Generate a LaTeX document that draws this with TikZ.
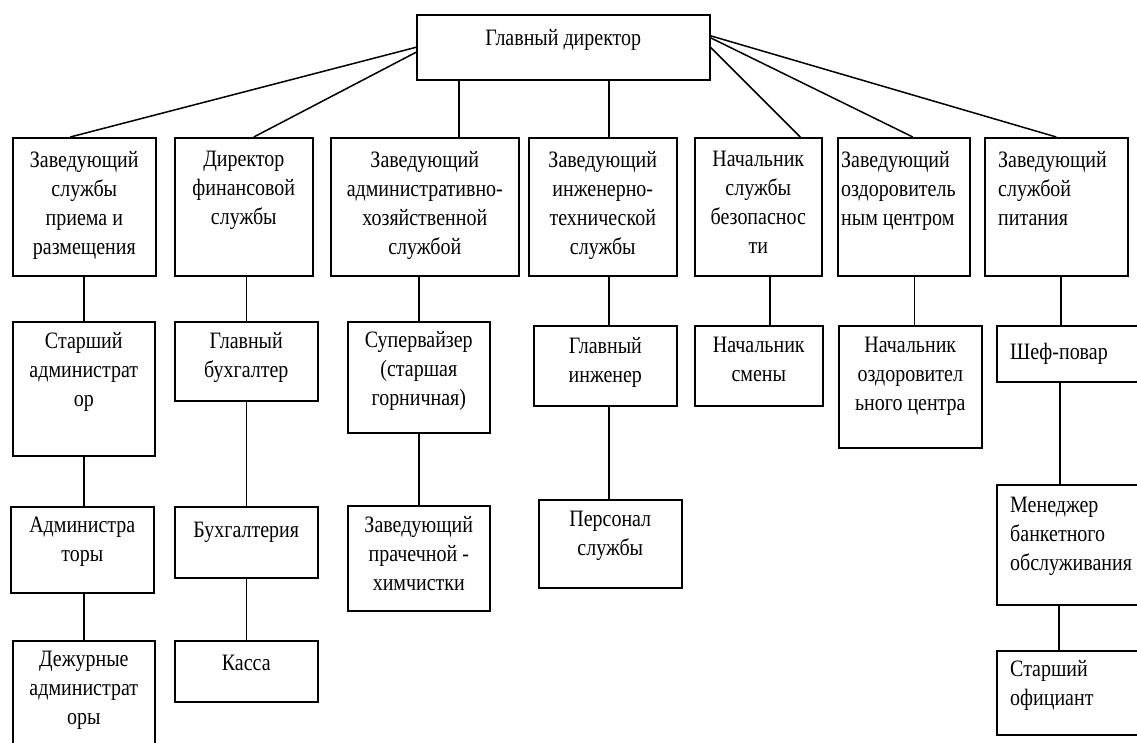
\documentclass[tikz,border=0pt]{standalone}
\usepackage{fontspec}
\setmainfont{Liberation Serif}[FakeStretch=0.85]
\tikzset{
  unit/.style={draw=black, line width=1.6pt, anchor=north west, inner sep=0pt},
  post/.style={font=\fontsize{23.5}{29}\selectfont, inner sep=0pt, align=center, anchor=north,
    execute at begin node=\strut},
  postl/.style={post, align=left, anchor=north west},
  link/.style={line width=1.5pt}
}
\begin{document}
\begin{tikzpicture}[x=1pt,y=-1pt]
 \useasboundingbox (0,0) rectangle (1137,742);
 % top
 \node[unit, minimum width=293pt, minimum height=65pt] (dir) at (416,14) {};
 \node[post] (dirT) at ([yshift=-11pt]dir.north) {Главный директор};
 % first row
 \node[unit, minimum width=143pt, minimum height=138pt] (recep) at (12,137) {};
 \node[unit, minimum width=138pt, minimum height=138pt] (fin) at (174,137) {};
 \node[unit, minimum width=188pt, minimum height=138pt] (adm) at (330,137) {};
 \node[unit, minimum width=148pt, minimum height=138pt] (eng) at (528,137) {};
 \node[unit, minimum width=127pt, minimum height=138pt] (sec) at (694,137) {};
 \node[unit, minimum width=132pt, minimum height=138pt] (health) at (837,137) {};
 \node[unit, minimum width=143pt, minimum height=138pt] (food) at (984,137) {};
 \node[post] (recepT) at ([yshift=-14pt]recep.north) {Заведующий\\службы\\приема и\\размещения};
 \node[post] (finT) at ([yshift=-14pt]fin.north) {Директор\\финансовой\\службы};
 \node[post] (admT) at ([yshift=-14pt]adm.north) {Заведующий\\административно-\\хозяйственной\\службой};
 \node[post] (engT) at ([yshift=-14pt]eng.north) {Заведующий\\инженерно-\\технической\\службы};
 \node[post] (secT) at ([yshift=-14pt]sec.north) {Начальник\\службы\\безопаснос\\ти};
 \node[postl] (healthT) at ([xshift=4pt,yshift=-14pt]health.north west) {Заведующий\\оздоровитель\\ным центром};
 \node[postl] (foodT) at ([xshift=14pt,yshift=-14pt]food.north west) {Заведующий\\службой\\питания};
 % second row
 \node[unit, minimum width=142pt, minimum height=134pt] (srAdm) at (12,321) {};
 \node[unit, minimum width=143pt, minimum height=79pt] (chAcc) at (174,321) {};
 \node[unit, minimum width=142pt, minimum height=111pt] (superv) at (347,321) {};
 \node[unit, minimum width=143pt, minimum height=80pt] (chEng) at (533,325) {};
 \node[unit, minimum width=128pt, minimum height=80pt] (shiftHd) at (694,325) {};
 \node[unit, minimum width=143pt, minimum height=122pt] (healthHd) at (838,325) {};
 \node[unit, minimum width=160pt, minimum height=56pt] (chef) at (996,325) {};
 \node[post] (srAdmT) at ([yshift=-11pt]srAdm.north) {Старший\\администрат\\ор};
 \node[post] (chAccT) at ([yshift=-11pt]chAcc.north) {Главный\\бухгалтер};
 \node[post] (supervT) at ([yshift=-10pt]superv.north) {Супервайзер\\(старшая\\горничная)};
 \node[post] (chEngT) at ([yshift=-12pt]chEng.north) {Главный\\инженер};
 \node[post] (shiftHdT) at ([yshift=-12pt]shiftHd.north) {Начальник\\смены};
 \node[post] (healthHdT) at ([yshift=-12pt]healthHd.north) {Начальник\\оздоровител\\ьного центра};
 \node[postl] (chefT) at ([xshift=14pt,yshift=-14pt]chef.north west) {Шеф-повар};
 % third row
 \node[unit, minimum width=143pt, minimum height=86pt] (admins) at (10,506) {};
 \node[unit, minimum width=143pt, minimum height=71pt] (acc) at (174,506) {};
 \node[unit, minimum width=142pt, minimum height=105pt] (laundry) at (347,505) {};
 \node[unit, minimum width=143pt, minimum height=88pt] (staff) at (538,499) {};
 \node[unit, minimum width=160pt, minimum height=120pt] (banquet) at (996,484) {};
 \node[post] (adminsT) at ([yshift=-11pt]admins.north) {Администра\\торы};
 \node[post] (accT) at ([yshift=-11pt]acc.north) {Бухгалтерия};
 \node[post] (laundryT) at ([yshift=-11pt]laundry.north) {Заведующий\\прачечной -\\химчистки};
 \node[post] (staffT) at ([yshift=-12pt]staff.north) {Персонал\\службы};
 \node[postl] (banquetT) at ([xshift=14pt,yshift=-13pt]banquet.north west) {Менеджер\\банкетного\\обслуживания};
 % fourth row
 \node[unit, minimum width=142pt, minimum height=120pt] (dutyAdm) at (12,640) {};
 \node[unit, minimum width=143pt, minimum height=61pt] (cash) at (174,640) {};
 \node[unit, minimum width=160pt, minimum height=84pt] (waiter) at (996,650) {};
 \node[post] (dutyAdmT) at ([yshift=-11pt]dutyAdm.north) {Дежурные\\администрат\\оры};
 \node[post] (cashT) at ([yshift=-10pt]cash.north) {Касса};
 \node[postl] (waiterT) at ([xshift=14pt,yshift=-10pt]waiter.north west) {Старший\\официант};
 % links from the top
 \draw[link] (dir.west) -- ([xshift=-14pt]recep.north);
 \draw[link] ([yshift=-5pt]dir.west) -- ([xshift=10pt]fin.north);
 \draw[link] ([xshift=34pt]adm.north) -- ([xshift=34pt]adm.north |- dir.south);
 \draw[link] ([xshift=6pt]eng.north) -- ([xshift=6pt]eng.north |- dir.south);
 \draw[link] (dir.east) -- ([xshift=42pt]sec.north);
 \draw[link] ([yshift=9.5pt]dir.east) -- ([xshift=9pt]health.north);
 \draw[link] ([yshift=11.5pt]dir.east) -- (food.north);
 % links down the columns
 \draw[link] (srAdm.north) -- (srAdm.north |- recep.south);
 \draw[link] (srAdm.south) -- (srAdm.south |- admins.north);
 \draw[link] (dutyAdm.north) -- (dutyAdm.north |- admins.south);
 \draw[link] (chAcc.north) -- (chAcc.north |- fin.south);
 \draw[link] (acc.north) -- (acc.north |- chAcc.south);
 \draw[link] (cash.north) -- (cash.north |- acc.south);
 \draw[link] (superv.north) -- (superv.north |- adm.south);
 \draw[link] (laundry.north) -- (laundry.north |- superv.south);
 \draw[link] ([xshift=3.5pt]chEng.north) -- ([xshift=3.5pt]chEng.north |- eng.south);
 \draw[link] ([xshift=-1.5pt]staff.north) -- ([xshift=-1.5pt]staff.north |- chEng.south);
 \draw[link] ([xshift=11pt]shiftHd.north) -- ([xshift=11pt]shiftHd.north |- sec.south);
 \draw[link] ([xshift=4pt]healthHd.north) -- ([xshift=4pt]healthHd.north |- health.south);
 \draw[link] ([xshift=65pt]chef.north west) -- ([xshift=65pt]chef.north west |- food.south);
 \draw[link] ([xshift=64pt]banquet.north west) -- ([xshift=64pt]banquet.north west |- chef.south);
 \draw[link] ([xshift=63pt]waiter.north west) -- ([xshift=63pt]waiter.north west |- banquet.south);
\end{tikzpicture}
\end{document}
